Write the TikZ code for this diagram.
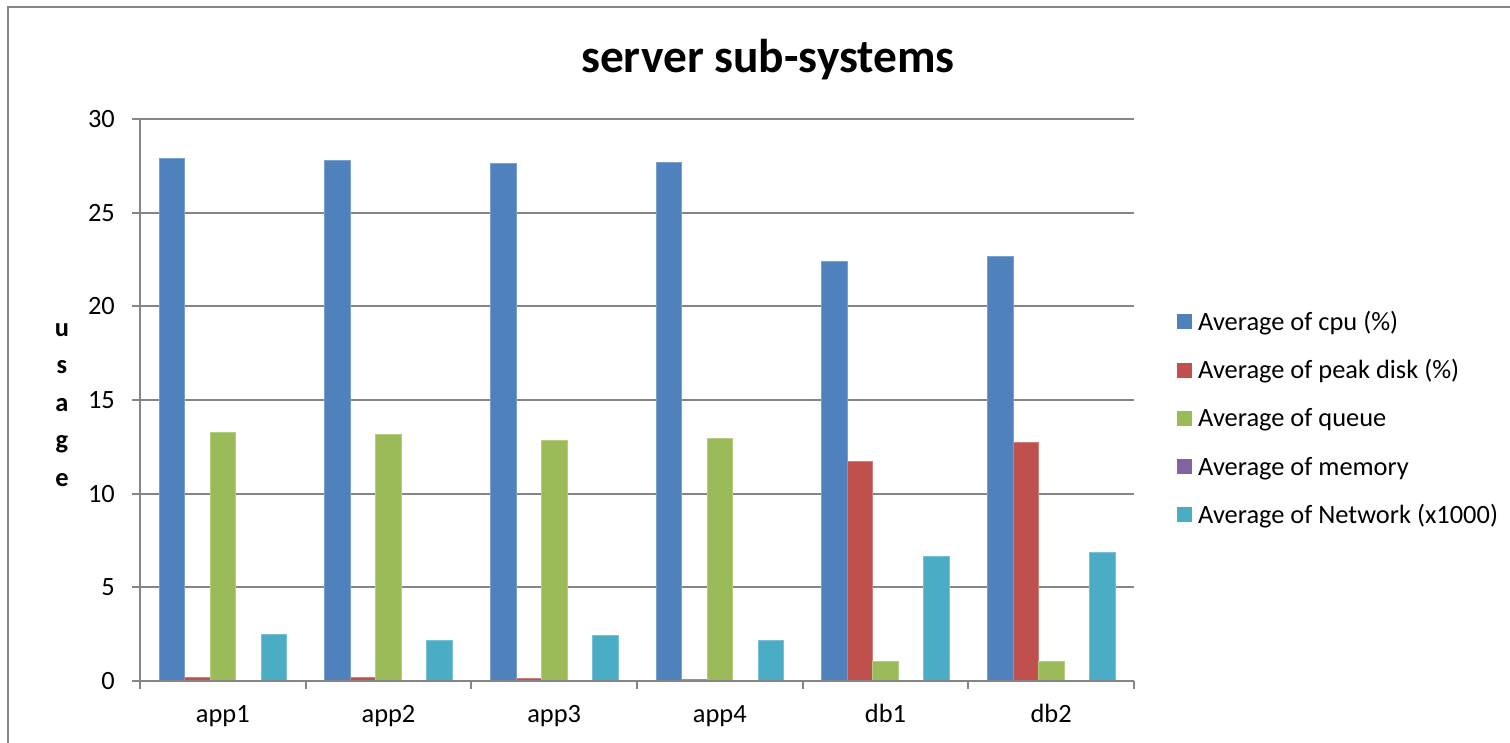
\documentclass[tikz,border=0pt]{standalone}
\usepackage{fontspec}
\setmainfont{Carlito}
\definecolor{cpuc}{HTML}{4F81BD}
\definecolor{diskc}{HTML}{C0504D}
\definecolor{queuec}{HTML}{9BBB59}
\definecolor{memc}{HTML}{8064A2}
\definecolor{netc}{HTML}{4BACC6}
\definecolor{linegray}{HTML}{868686}
\begin{document}
\begin{tikzpicture}[x=1pt,y=-1pt,
  frame/.style={draw=linegray,line width=2pt},
  gridline/.style={draw=linegray,line width=1.8pt},
  axisline/.style={draw=linegray,line width=1.8pt},
  ticklabel/.style={inner sep=0pt,font=\fontsize{26.4}{30}\selectfont},
  catlabel/.style={inner sep=0pt,font=\fontsize{26.4}{30}\selectfont,anchor=base},
  legendtext/.style={inner sep=0pt,font=\fontsize{26.4}{30}\selectfont,anchor=base west},
  axistitle/.style={inner sep=0pt,font=\fontsize{26.4}{30}\selectfont\bfseries,anchor=base},
  charttitle/.style={inner sep=0pt,font=\fontsize{47.4}{54}\selectfont\bfseries},
  barstyle/.style={fill=#1,draw=#1!75!white,line width=0.7pt}
]
\useasboundingbox (0,0) rectangle (1510,742);
\clip (0,0) rectangle (1510,742);
\fill[white] (0,0) rectangle (1510,742);

% chart frame (runs past the right and bottom edges)
\draw[frame] (8,7) rectangle (1540,770);

% title
\node[charttitle] (title) at (768,60) {server sub-systems};

% horizontal gridlines and value labels
\foreach \v in {5,10,15,20,25,30}{
  \draw[gridline] (132,{681-\v*18.733}) -- (1134,{681-\v*18.733});
}
\foreach \v in {0,5,10,15,20,25,30}{
  \node[ticklabel,anchor=base east] (ytick\v) at (115,{681-\v*18.733+8.4}) {\v};
}

% vertical axis title, one letter per line
\foreach \l/\k in {u/0,s/1,a/2,g/3,e/4}{
  \node[axistitle] (ytitle\k) at (62,{336+\k*37.5}) {\l};
}

% bars: cpu, peak disk, queue, memory (all zero), network
\foreach \i/\a/\b/\q/\n in {0/27.92/0.20/13.29/2.47,
                             1/27.80/0.20/13.18/2.19,
                             2/27.65/0.15/12.87/2.42,
                             3/27.70/0.10/12.97/2.19,
                             4/22.42/11.74/1.05/6.64,
                             5/22.69/12.76/1.05/6.87}{
  \pgfmathsetmacro\xo{140+\i*165.667+19.115}
  \fill[barstyle=cpuc]   (\xo,681) rectangle ({\xo+25.487},{681-\a*18.733});
  \fill[barstyle=diskc]  ({\xo+25.487},681) rectangle ({\xo+2*25.487},{681-\b*18.733});
  \fill[barstyle=queuec] ({\xo+2*25.487},681) rectangle ({\xo+3*25.487},{681-\q*18.733});
  \fill[barstyle=netc]   ({\xo+4*25.487},681) rectangle ({\xo+5*25.487},{681-\n*18.733});
}

% axes
\draw[axisline] (140,119) -- (140,689);
\draw[axisline] (132,681) -- (1134,681);
\foreach \i in {1,...,6}{
  \draw[axisline] ({140+\i*165.667},681) -- ({140+\i*165.667},689);
}

% category labels
\foreach \c/\k in {app1/0,app2/1,app3/2,app4/3,db1/4,db2/5}{
  \node[catlabel] (cat\k) at ({140+(\k+0.5)*165.667},722) {\c};
}

% legend
\foreach \k/\col/\txt in {0/cpuc/{Average of cpu (\%)},
                          1/diskc/{Average of peak disk (\%)},
                          2/queuec/{Average of queue},
                          3/memc/{Average of memory},
                          4/netc/{Average of Network (x1000)}}{
  \fill[\col] (1177,{321.7+\k*48.3-7.5}) rectangle (1192,{321.7+\k*48.3+7.5});
  \node[legendtext] (leg\k) at (1198,{321.7+\k*48.3+8.5}) {\txt};
}
\end{tikzpicture}
\end{document}
